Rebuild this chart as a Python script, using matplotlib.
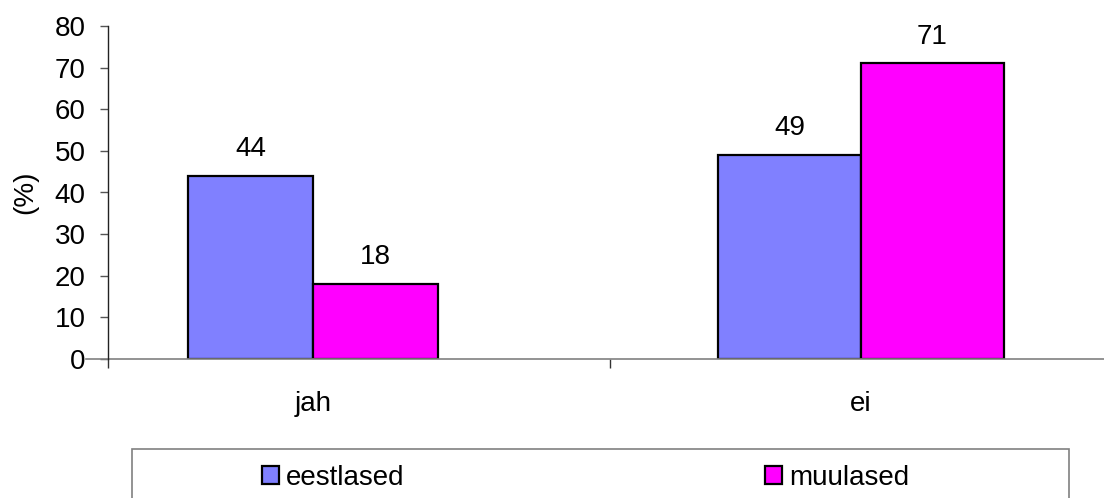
import matplotlib
matplotlib.use("Agg")
import matplotlib.pyplot as plt
from matplotlib.patches import Rectangle
from matplotlib.lines import Line2D

categories = ["jah", "ei"]
series_names = ["eestlased", "muulased"]
eestlased = [44, 49]
muulased = [18, 71]
yticks = [0, 10, 20, 30, 40, 50, 60, 70, 80]

colors = ["#8080FF", "#FF00FF"]
plt.rcParams['font.family'] = ['Liberation Sans', 'DejaVu Sans']

W, H = 1104, 498
fig = plt.figure(figsize=(W / 100, H / 100), dpi=100)

ax_left, ax_right, ax_top, ax_bottom = 108, 1104, 26, 359
ax = fig.add_axes([ax_left / W, (H - ax_bottom) / H, (ax_right - ax_left) / W, (ax_bottom - ax_top) / H])

px_per_unit = 548.0
c0 = 313.0
ax.set_xlim((ax_left - c0) / px_per_unit, (ax_right - c0) / px_per_unit)
ax.set_ylim(0, 80)

widths = [125 / px_per_unit, 143 / px_per_unit]
xs = list(range(len(categories)))

b1 = ax.bar([x - w for x, w in zip(xs, widths)], eestlased, width=widths, align='edge',
            color=colors[0], edgecolor='black', linewidth=1.6, label=series_names[0])
b2 = ax.bar(xs, muulased, width=widths, align='edge',
            color=colors[1], edgecolor='black', linewidth=1.6, label=series_names[1])

for bars, vals in ((b1, eestlased), (b2, muulased)):
    for r, v in zip(bars, vals):
        ax.annotate(f"{v}", (r.get_x() + r.get_width() / 2, v), xytext=(0, 10),
                    textcoords='offset points', ha='center', va='bottom', fontsize=20)

for s in ('top', 'right', 'bottom'):
    ax.spines[s].set_visible(False)
ax.spines['left'].set_color('#222222')
ax.spines['left'].set_linewidth(1.0)

ax.set_yticks(yticks)
ax.tick_params(axis='y', direction='out', length=6, width=1.0, color='#555555',
               labelsize=20, pad=10)

left_x = (ax_left - c0) / px_per_unit
sep = (610 - c0) / px_per_unit
ax.set_xticks([left_x, sep])
ax.set_xticklabels(["", ""])
ax.tick_params(axis='x', which='major', direction='out', length=6.5, width=1.0, color='#333333')
ax.set_xticks(xs, minor=True)
ax.set_xticklabels(categories, minor=True)
ax.tick_params(axis='x', which='minor', length=0, labelsize=20, pad=23)

ax.add_line(Line2D([(86 - ax_left) / (ax_right - ax_left), 1.0], [0, 0], transform=ax.transAxes,
                   color='#808080', linewidth=1.2, clip_on=False))

ax.set_ylabel("(%)", fontsize=20, labelpad=12)

lx0, lx1, ly0 = 132, 1069, 449
fig.patches.append(Rectangle((lx0 / W, -0.1), (lx1 - lx0) / W, (H - ly0) / H + 0.1,
                             transform=fig.transFigure, facecolor='white',
                             edgecolor='#808080', linewidth=1.2))
leg = fig.legend(handles=[b1, b2], labels=series_names, ncol=2, frameon=False,
                 loc='center left', bbox_to_anchor=(262 / W, (H - 478) / H),
                 fontsize=20, handlelength=0.6, handleheight=0.6, handletextpad=0.25,
                 columnspacing=13.0, borderpad=0, borderaxespad=0)

fig.savefig("out.png", dpi=100)
